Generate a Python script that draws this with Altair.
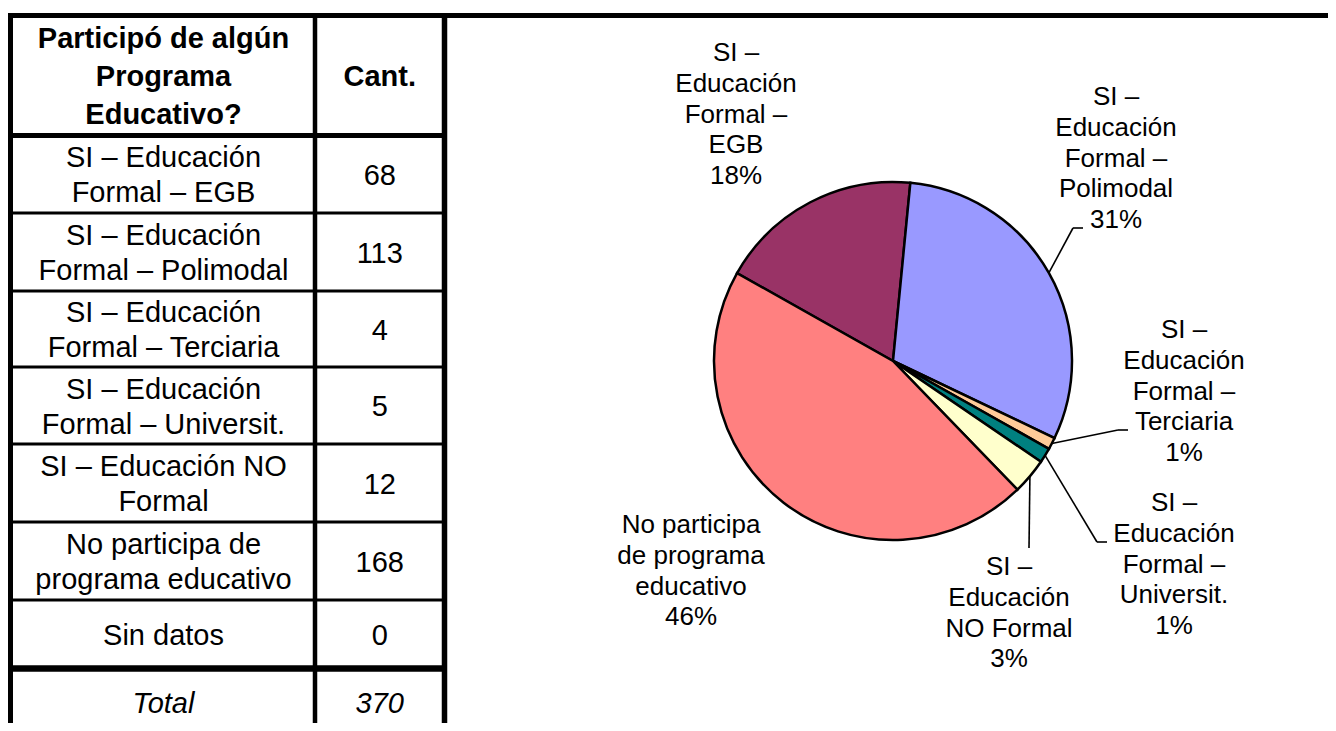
import math
import altair as alt
import pandas as pd

# ---------------- data ----------------
categories = [
    "SI – Educación Formal – EGB",
    "SI – Educación Formal – Polimodal",
    "SI – Educación Formal – Terciaria",
    "SI – Educación Formal – Universit.",
    "SI – Educación NO Formal",
    "No participa de programa educativo",
    "Sin datos",
]
table_text = [
    "SI – Educación\nFormal – EGB",
    "SI – Educación\nFormal – Polimodal",
    "SI – Educación\nFormal – Terciaria",
    "SI – Educación\nFormal – Universit.",
    "SI – Educación NO\nFormal",
    "No participa de\nprograma educativo",
    "Sin datos",
]
counts = [68, 113, 4, 5, 12, 168, 0]
header_text = ["Participó de algún\nPrograma\nEducativo?", "Cant."]
total_text = ["Total", "370"]

pie_text = [
    "SI –\nEducación\nFormal –\nEGB",
    "SI –\nEducación\nFormal –\nPolimodal",
    "SI –\nEducación\nFormal –\nTerciaria",
    "SI –\nEducación\nFormal –\nUniversit.",
    "SI –\nEducación\nNO Formal",
    "No participa\nde programa\neducativo",
]
pct_text = ["18%", "31%", "1%", "1%", "3%", "46%"]
colors = ["#993366", "#9999FF", "#FFCC99", "#008080", "#FFFFCC", "#FF8080"]

# ---------------- layout (page pixel coordinates) ----------------
M = 8
W, H = 1320, 715
FONT = "Liberation Sans"
TABLE_FS = 29
ROW_LH = 35
HEAD_LH = 38
PIE_FS = 26
PIE_LH = 30.8

X_LEFT, X_DIV, X_RIGHT = 10, 315, 444.5
Y_TOP, Y_HEAD = 15.5, 135.5
ROW_LINES = [213, 291, 367, 444, 522, 600]
Y_TOTAL_LINE = 668.5
Y_BOTTOM = 740

CX, CY, R = 893, 361, 179
START_DEG = -60.6

# centre x and y of the first text line of each pie label
label_pos = [(736, 53), (1116, 97), (1184, 330), (1174, 503), (1009, 567), (691, 525)]
leader_pts = [
    None,
    [(1073, 228), (1083, 228)],
    [(1118, 430), (1128, 430)],
    [(1097, 542), (1107, 542)],
    [(1029, 548)],
    None,
]

xs = alt.Scale(domain=[M, M + W], range=[0, W])
ys = alt.Scale(domain=[M, M + H], range=[0, H])


def first_line_y(center, text, lh):
    n = text.count("\n") + 1
    return center - (n - 1) / 2 * lh


# ---------------- table ----------------
lines = [
    dict(x=7, x2=M + W + 10, y=Y_TOP, y2=Y_TOP, w=5),
    dict(x=X_LEFT, x2=X_LEFT, y=13, y2=Y_BOTTOM, w=6),
    dict(x=X_DIV, x2=X_DIV, y=13, y2=Y_BOTTOM, w=4.5),
    dict(x=X_RIGHT, x2=X_RIGHT, y=13, y2=Y_BOTTOM, w=5.5),
    dict(x=7, x2=447, y=Y_HEAD, y2=Y_HEAD, w=5),
    dict(x=7, x2=447, y=Y_TOTAL_LINE, y2=Y_TOTAL_LINE, w=6.5),
]
for yl in ROW_LINES:
    lines.append(dict(x=7, x2=447, y=yl, y2=yl, w=3))
lines_df = pd.DataFrame(lines)

table_rules = alt.Chart(lines_df).mark_rule(color="black").encode(
    x=alt.X("x:Q", scale=xs, axis=None),
    x2="x2:Q",
    y=alt.Y("y:Q", scale=ys, axis=None),
    y2="y2:Q",
    strokeWidth=alt.StrokeWidth("w:Q", scale=None),
)

bounds = [Y_HEAD] + ROW_LINES + [Y_TOTAL_LINE]
cell_rows = []
for i, (t, c) in enumerate(zip(table_text, counts)):
    yc = (bounds[i] + bounds[i + 1]) / 2 + 1.5
    cell_rows.append(dict(x=(X_LEFT + X_DIV) / 2 + 1, y=first_line_y(yc, t, ROW_LH), t=t))
    cell_rows.append(dict(x=(X_DIV + X_RIGHT) / 2, y=yc, t=str(c)))
cells_df = pd.DataFrame(cell_rows)

cells = alt.Chart(cells_df).mark_text(
    font=FONT, fontSize=TABLE_FS, lineBreak="\n", lineHeight=ROW_LH, color="black",
    align="center", baseline="middle",
).encode(x=alt.X("x:Q", scale=xs), y=alt.Y("y:Q", scale=ys), text="t:N")

head_y = (Y_TOP + Y_HEAD) / 2 + 1
head_df = pd.DataFrame([
    dict(x=(X_LEFT + X_DIV) / 2 + 1, y=first_line_y(head_y, header_text[0], HEAD_LH), t=header_text[0]),
    dict(x=(X_DIV + X_RIGHT) / 2, y=head_y, t=header_text[1]),
])
heads = alt.Chart(head_df).mark_text(
    font=FONT, fontSize=TABLE_FS, fontWeight="bold", lineBreak="\n", lineHeight=HEAD_LH,
    color="black", align="center", baseline="middle",
).encode(x=alt.X("x:Q", scale=xs), y=alt.Y("y:Q", scale=ys), text="t:N")

tot_df = pd.DataFrame([
    dict(x=(X_LEFT + X_DIV) / 2 + 1, y=704, t=total_text[0]),
    dict(x=(X_DIV + X_RIGHT) / 2, y=704, t=total_text[1]),
])
tots = alt.Chart(tot_df).mark_text(
    font=FONT, fontSize=TABLE_FS, fontStyle="italic", color="black",
    align="center", baseline="middle",
).encode(x=alt.X("x:Q", scale=xs), y=alt.Y("y:Q", scale=ys), text="t:N")

# ---------------- pie ----------------
pie_df = pd.DataFrame({
    "cat": categories[:6],
    "count": counts[:6],
    "idx": list(range(6)),
})
start = math.radians(START_DEG)
pie = alt.Chart(pie_df).mark_arc(
    outerRadius=R, stroke="black", strokeWidth=2.5,
).encode(
    theta=alt.Theta("count:Q", stack=True, scale=alt.Scale(range=[start, start + 2 * math.pi])),
    color=alt.Color("cat:N", scale=alt.Scale(domain=categories[:6], range=colors), legend=None),
    order=alt.Order("idx:Q"),
    x=alt.value(CX - M),
    y=alt.value(CY - M),
)

total_count = sum(counts)
lab_rows, seg_rows = [], []
cum = 0
for i, c in enumerate(counts[:6]):
    mid = START_DEG + (cum + c / 2) / total_count * 360
    cum += c
    lx, ly = label_pos[i]
    lab_rows.append(dict(x=lx, y=ly, t=pie_text[i] + "\n" + pct_text[i]))
    if leader_pts[i]:
        a = math.radians(mid)
        pts = [(CX + R * math.sin(a), CY - R * math.cos(a))] + leader_pts[i]
        for p, q in zip(pts[:-1], pts[1:]):
            seg_rows.append(dict(x=p[0], y=p[1], x2=q[0], y2=q[1]))

labels = alt.Chart(pd.DataFrame(lab_rows)).mark_text(
    font=FONT, fontSize=PIE_FS, lineBreak="\n", lineHeight=PIE_LH, color="black",
    align="center", baseline="middle",
).encode(x=alt.X("x:Q", scale=xs), y=alt.Y("y:Q", scale=ys), text="t:N")

leaders = alt.Chart(pd.DataFrame(seg_rows)).mark_rule(color="black", strokeWidth=1.6).encode(
    x=alt.X("x:Q", scale=xs), x2="x2:Q", y=alt.Y("y:Q", scale=ys), y2="y2:Q",
)

chart = alt.layer(table_rules, cells, heads, tots, pie, leaders, labels).resolve_scale(
    color="independent"
).properties(
    width=W, height=H, padding=0, autosize=alt.AutoSizeParams(type="none"),
    background="white",
).configure_view(stroke=None)

chart.save("out.html", embed_options={"renderer": "svg", "actions": False})
